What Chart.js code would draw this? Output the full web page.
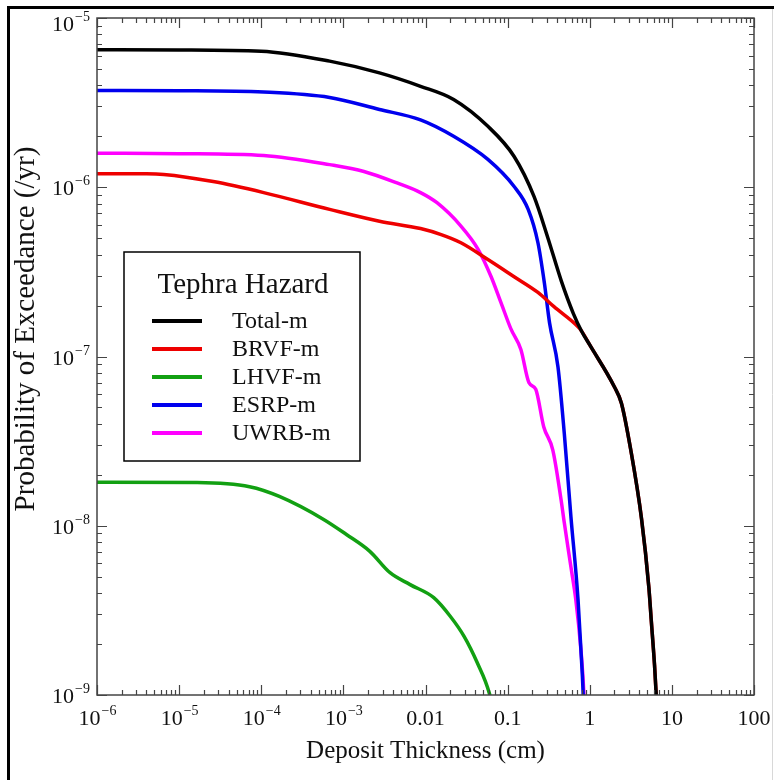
<!DOCTYPE html>
<html>
<head>
<meta charset="utf-8">
<script src="https://cdn.jsdelivr.net/npm/chart.js@4.4.1/dist/chart.umd.min.js"></script>
<style>
  html, body { margin: 0; padding: 0; background: #ffffff; }
  #wrap { position: relative; width: 774px; height: 780px; }
  canvas { display: block; }
</style>
</head>
<body>
<div id="wrap"><canvas id="tephra-chart" width="774" height="780"></canvas></div>
<script>
// Axis ticks and labels ('^' splits base and exponent).
const xTicks = [1e-6, 1e-5, 1e-4, 1e-3, 0.01, 0.1, 1, 10, 100];
const xTickLabels = ['10^\u22126', '10^\u22125', '10^\u22124', '10^\u22123', '0.01', '0.1', '1', '10', '100'];
const yTicks = [1e-9, 1e-8, 1e-7, 1e-6, 1e-5];
const yTickLabels = ['10^\u22129', '10^\u22128', '10^\u22127', '10^\u22126', '10^\u22125'];

const xTitle = 'Deposit Thickness (cm)';
const yTitle = 'Probability of Exceedance (/yr)';
const legendTitle = 'Tephra Hazard';

const seriesNames = ['Total-m', 'BRVF-m', 'LHVF-m', 'ESRP-m', 'UWRB-m'];
const seriesColors = ['#000000', '#ee0000', '#12a012', '#0000ee', '#ff00ff'];

// Total-m
const totalX = [1e-6, 1e-5, 1e-4, 6.8e-4, 2.75e-3, 8.7e-3, 0.022, 0.0575, 0.12, 0.21, 0.31, 0.45, 0.63, 0.79, 1.0, 2.0, 2.43, 3.16, 4.27, 5.25, 5.6, 6.15, 6.45, 6.6];
const totalY = [6.5e-6, 6.48e-6, 6.37e-6, 5.56e-6, 4.74e-6, 3.95e-6, 3.3e-6, 2.29e-6, 1.52e-6, 8.8e-7, 5.0e-7, 2.8e-7, 1.8e-7, 1.42e-7, 1.17e-7, 6.6e-8, 5.3e-8, 2.8e-8, 1.1e-8, 4.3e-9, 2.8e-9, 1.5e-9, 1.0e-9, 8e-10];

// BRVF-m
const brvfX = [1e-6, 4e-6, 6.5e-6, 2.6e-5, 1.07e-4, 6.8e-4, 2.75e-3, 8.7e-3, 0.0155, 0.027, 0.0575, 0.12, 0.234, 0.367, 0.72, 0.79, 1.0, 2.0, 2.43, 3.16, 4.27, 5.25, 5.6, 6.15, 6.45, 6.6];
const brvfY = [1.2e-6, 1.2e-6, 1.19e-6, 1.08e-6, 9.3e-7, 7.4e-7, 6.3e-7, 5.7e-7, 5.25e-7, 4.7e-7, 3.74e-7, 2.96e-7, 2.39e-7, 1.97e-7, 1.5e-7, 1.42e-7, 1.17e-7, 6.6e-8, 5.3e-8, 2.8e-8, 1.1e-8, 4.3e-9, 2.8e-9, 1.5e-9, 1.0e-9, 8e-10];

// LHVF-m
const lhvfX = [1e-6, 1.66e-5, 7.2e-5, 1.66e-4, 5.75e-4, 1.1e-3, 2.1e-3, 3.7e-3, 6.5e-3, 0.0126, 0.02, 0.0295, 0.0427, 0.06, 0.065];
const lhvfY = [1.81e-8, 1.8e-8, 1.7e-8, 1.49e-8, 1.09e-8, 8.85e-9, 7.06e-9, 5.28e-9, 4.49e-9, 3.76e-9, 2.92e-9, 2.22e-9, 1.55e-9, 1.02e-9, 8.5e-10];

// ESRP-m
const esrpX = [1e-6, 1e-5, 1.07e-4, 6.8e-4, 2.75e-3, 8.7e-3, 0.022, 0.0575, 0.12, 0.178, 0.234, 0.28, 0.324, 0.41, 0.49, 0.59, 0.72, 0.78, 0.83, 0.84];
const esrpY = [3.73e-6, 3.72e-6, 3.65e-6, 3.39e-6, 2.88e-6, 2.5e-6, 2.0e-6, 1.46e-6, 1.01e-6, 7.4e-7, 4.7e-7, 2.73e-7, 1.58e-7, 8.7e-8, 3.5e-8, 1.13e-8, 3.66e-9, 1.86e-9, 1.04e-9, 8.5e-10];

// UWRB-m
const uwrbX = [1e-6, 1e-5, 1.07e-4, 6.8e-4, 1.78e-3, 4.5e-3, 8.7e-3, 0.0138, 0.027, 0.0437, 0.063, 0.083, 0.11, 0.145, 0.182, 0.22, 0.275, 0.355, 0.447, 0.49, 0.59, 0.676, 0.78, 0.85, 0.86];
const uwrbY = [1.59e-6, 1.58e-6, 1.54e-6, 1.36e-6, 1.24e-6, 1.06e-6, 9.3e-7, 8.1e-7, 5.9e-7, 4.3e-7, 2.96e-7, 2.08e-7, 1.45e-7, 1.1e-7, 7.0e-8, 6.4e-8, 3.85e-8, 2.8e-8, 1.43e-8, 1.04e-8, 5.7e-9, 3.66e-9, 1.86e-9, 1.0e-9, 8.5e-10];

const seriesX = [totalX, brvfX, lhvfX, esrpX, uwrbX];
const seriesY = [totalY, brvfY, lhvfY, esrpY, uwrbY];

const SERIF = '"Liberation Serif", "Times New Roman", "DejaVu Serif", serif';

function toPoints(xs, ys) {
	return xs.map(function(v, i) { return { x: v, y: ys[i] }; });
}

// Build decade + minor tick list for a log scale.
function logTickList(scale) {
	const list = [];
	const lo = Math.floor(Math.log10(scale.min));
	const hi = Math.ceil(Math.log10(scale.max));
	for (let e = lo; e <= hi; e++) {
		for (let m = 1; m <= 9; m++) {
			const v = m * Math.pow(10, e);
			if (v >= scale.min * 0.999 && v <= scale.max * 1.001) {
				list.push({ v: v, major: m === 1 });
			}
		}
	}
	return list;
}

// Draw "10^-6" style label; align: 'center' or 'right'.
function drawPowerLabel(ctx, text, px, baseY, align) {
	const parts = text.split('^');
	ctx.font = '22px ' + SERIF;
	const wBase = ctx.measureText(parts[0]).width;
	let wExp = 0;
	if (parts.length > 1) {
		ctx.font = '14px ' + SERIF;
		wExp = ctx.measureText(parts[1]).width;
	}
	const total = wBase + wExp;
	let start = align === 'right' ? px - total : px - total / 2;
	ctx.textAlign = 'left';
	ctx.textBaseline = 'alphabetic';
	ctx.font = '22px ' + SERIF;
	ctx.fillText(parts[0], start, baseY);
	if (parts.length > 1) {
		ctx.font = '14px ' + SERIF;
		ctx.fillText(parts[1], start + wBase + 1, baseY - 10);
	}
}

const axesPlugin = {
	id: 'axesPlugin',
	beforeDraw(chart) {
		const ctx = chart.ctx;
		ctx.save();
		// Outer figure border.
		ctx.strokeStyle = '#000000';
		ctx.lineWidth = 3;
		ctx.beginPath();
		ctx.moveTo(8.5, 780);
		ctx.lineTo(8.5, 7.5);
		ctx.lineTo(774, 7.5);
		ctx.stroke();
		ctx.strokeStyle = '#d8d8d8';
		ctx.lineWidth = 1;
		ctx.beginPath();
		ctx.moveTo(772.5, 9);
		ctx.lineTo(772.5, 780);
		ctx.stroke();
		ctx.restore();
	},
	afterDatasetsDraw(chart) {
		const ctx = chart.ctx;
		const a = chart.chartArea;
		const xs = chart.scales.x;
		const ys = chart.scales.y;
		ctx.save();
		ctx.strokeStyle = '#444444';
		ctx.lineWidth = 1.5;
		ctx.strokeRect(a.left, a.top, a.right - a.left, a.bottom - a.top);

		ctx.lineWidth = 1.2;
		ctx.beginPath();
		logTickList(xs).forEach(function(t) {
			const px = Math.round(xs.getPixelForValue(t.v)) + 0.5;
			const len = t.major ? 10 : 5;
			ctx.moveTo(px, a.bottom);
			ctx.lineTo(px, a.bottom - len);
			ctx.moveTo(px, a.top);
			ctx.lineTo(px, a.top + len);
		});
		logTickList(ys).forEach(function(t) {
			const py = Math.round(ys.getPixelForValue(t.v)) + 0.5;
			const len = t.major ? 10 : 5;
			ctx.moveTo(a.left, py);
			ctx.lineTo(a.left + len, py);
			ctx.moveTo(a.right, py);
			ctx.lineTo(a.right - len, py);
		});
		ctx.stroke();

		// Tick labels.
		ctx.fillStyle = '#111111';
		xTicks.forEach(function(v, i) {
			drawPowerLabel(ctx, xTickLabels[i], xs.getPixelForValue(v), a.bottom + 30, 'center');
		});
		yTicks.forEach(function(v, i) {
			const py = Math.max(ys.getPixelForValue(v), a.top + 5);
			drawPowerLabel(ctx, yTickLabels[i], 89, py + 8, 'right');
		});

		// Axis titles.
		ctx.textAlign = 'center';
		ctx.textBaseline = 'alphabetic';
		ctx.font = '25px ' + SERIF;
		ctx.fillText(xTitle, (a.left + a.right) / 2, 758);
		ctx.font = '29px ' + SERIF;
		ctx.translate(34, 329);
		ctx.rotate(-Math.PI / 2);
		ctx.fillText(yTitle, 0, 0);
		ctx.restore();
	},
	afterDraw(chart) {
		const ctx = chart.ctx;
		ctx.save();
		// Legend box.
		ctx.fillStyle = '#ffffff';
		ctx.fillRect(124, 252, 236, 209);
		ctx.strokeStyle = '#000000';
		ctx.lineWidth = 1.5;
		ctx.strokeRect(124, 252, 236, 209);
		ctx.fillStyle = '#111111';
		ctx.font = '29px ' + SERIF;
		ctx.textAlign = 'center';
		ctx.textBaseline = 'alphabetic';
		ctx.fillText(legendTitle, 243, 293);
		ctx.font = '24px ' + SERIF;
		ctx.textAlign = 'left';
		ctx.textBaseline = 'middle';
		chart.data.datasets.forEach(function(ds, i) {
			const cy = 321 + i * 28;
			ctx.strokeStyle = ds.borderColor;
			ctx.lineWidth = 4;
			ctx.beginPath();
			ctx.moveTo(152, cy);
			ctx.lineTo(202, cy);
			ctx.stroke();
			ctx.fillText(ds.label, 232, cy + 1);
		});
		ctx.restore();
	}
};

const datasets = seriesNames.map(function(name, i) {
	return {
		label: name,
		data: toPoints(seriesX[i], seriesY[i]),
		borderColor: seriesColors[i],
		backgroundColor: seriesColors[i],
		borderWidth: 3.5,
		pointRadius: 0,
		fill: false,
		cubicInterpolationMode: 'monotone',
		tension: 0
	};
});
// Draw Total-m last so it sits on top of BRVF-m.
datasets.forEach(function(ds, i) { ds.order = i === 0 ? -1 : i; });

new Chart(document.getElementById('tephra-chart'), {
	type: 'line',
	data: { datasets: datasets },
	options: {
		responsive: false,
		animation: false,
		devicePixelRatio: 1,
		layout: { padding: { top: 18, right: 20, left: 0, bottom: 0 } },
		plugins: {
			legend: { display: false },
			tooltip: { enabled: false }
		},
		scales: {
			x: {
				type: 'logarithmic',
				min: 1e-6,
				max: 100,
				grid: { display: false },
				border: { display: false },
				ticks: { display: false },
				afterBuildTicks: function(s) { s.ticks = xTicks.map(function(v) { return { value: v }; }); },
				afterFit: function(s) { s.height = 85; }
			},
			y: {
				type: 'logarithmic',
				min: 1e-9,
				max: 1e-5,
				grid: { display: false },
				border: { display: false },
				ticks: { display: false },
				afterBuildTicks: function(s) { s.ticks = yTicks.map(function(v) { return { value: v }; }); },
				afterFit: function(s) { s.width = 97; }
			}
		}
	},
	plugins: [axesPlugin]
});
</script>
</body>
</html>
